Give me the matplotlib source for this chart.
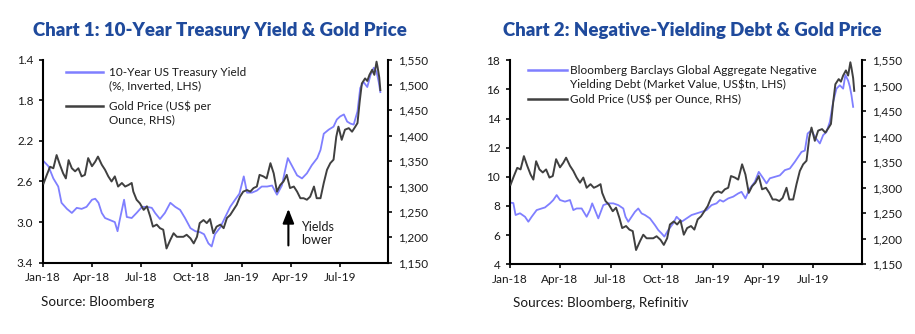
#!/usr/bin/env python3
"""
Two dual-axis charts: 10-year Treasury yield vs gold, negative-yielding debt vs gold.
"""

import pandas as pd
import matplotlib
matplotlib.use("Agg")
import matplotlib.pyplot as plt
from matplotlib.lines import Line2D
from matplotlib.ticker import FuncFormatter

plt.rcParams['font.family'] = ['Lato', 'DejaVu Sans']

START = pd.Timestamp('2018-01-01')

# 10-year US Treasury yield (%), days since 1 Jan 2018
yield_days = [1, 10, 19, 28, 34, 44, 53, 62, 71, 80, 90, 96, 102, 108, 114,
              123, 132, 137, 141, 149, 154, 163, 172, 182, 191, 200, 206,
              215, 224, 234, 243, 252, 261, 271, 280, 289, 296, 304, 310,
              316, 326, 335, 344, 353, 361, 369, 375, 384, 393, 402, 412,
              421, 430, 439, 445, 450, 458, 467, 476, 485, 494, 504, 510,
              516, 525, 534, 540, 546, 553, 559, 565, 571, 578, 583, 589,
              596, 602, 608, 613, 617, 620]
yield_vals = [2.40, 2.45, 2.57, 2.65, 2.81, 2.87, 2.91, 2.86, 2.87, 2.85,
              2.78, 2.77, 2.81, 2.91, 2.96, 2.98, 3.00, 3.09, 2.98, 2.78,
              2.95, 2.96, 2.91, 2.85, 2.85, 2.86, 2.91, 2.97, 2.91, 2.81,
              2.85, 2.88, 2.96, 3.06, 3.09, 3.10, 3.12, 3.21, 3.24, 3.12,
              3.05, 2.95, 2.85, 2.78, 2.72, 2.55, 2.71, 2.71, 2.69, 2.65,
              2.65, 2.64, 2.73, 2.64, 2.49, 2.37, 2.45, 2.54, 2.57, 2.52,
              2.44, 2.37, 2.29, 2.13, 2.09, 2.06, 1.99, 1.96, 1.94, 2.01,
              2.03, 2.04, 1.91, 1.68, 1.62, 1.67, 1.55, 1.48, 1.52, 1.62,
              1.72]

# Gold price (US$ per ounce), days since 1 Jan 2018
gold_days = [1, 7, 13, 19, 25, 31, 37, 42, 47, 53, 59, 65, 71, 77, 83, 90,
             96, 101, 108, 114, 120, 126, 132, 138, 145, 151, 157, 163, 166,
             172, 178, 185, 191, 197, 202, 209, 215, 221, 227, 234, 240, 246,
             252, 258, 264, 271, 277, 283, 288, 295, 301, 307, 313, 319, 326,
             332, 338, 344, 350, 356, 362, 368, 375, 381, 387, 393, 398, 405,
             411, 418, 424, 430, 436, 442, 448, 454, 461, 467, 473, 479, 485,
             491, 498, 503, 510, 516, 522, 528, 534, 539, 543, 549, 555, 562,
             568, 574, 578, 582, 586, 592, 596, 600, 605, 609, 613, 615, 618,
             620]
gold_vals = [1306, 1323, 1339, 1336, 1362, 1343, 1326, 1316, 1352, 1336,
             1330, 1336, 1320, 1323, 1356, 1340, 1349, 1359, 1343, 1333,
             1320, 1310, 1320, 1300, 1307, 1300, 1303, 1307, 1290, 1274,
             1267, 1254, 1261, 1241, 1221, 1225, 1218, 1215, 1178, 1195,
             1208, 1201, 1201, 1201, 1205, 1198, 1188, 1201, 1228, 1234,
             1228, 1236, 1208, 1221, 1225, 1218, 1238, 1244, 1254, 1264,
             1280, 1290, 1293, 1290, 1297, 1300, 1323, 1320, 1316, 1346,
             1326, 1290, 1303, 1310, 1323, 1297, 1300, 1290, 1277, 1277,
             1274, 1280, 1300, 1277, 1277, 1307, 1333, 1346, 1353, 1398,
             1418, 1392, 1412, 1415, 1408, 1418, 1425, 1467, 1503, 1513,
             1508, 1520, 1530, 1520, 1546, 1535, 1515, 1490]

# Negative-yielding debt (US$tn), days since 1 Jan 2018
debt_days = [2, 6, 10, 18, 27, 33, 39, 48, 57, 63, 72, 78, 84, 90, 99, 108,
             114, 120, 129, 138, 144, 148, 153, 159, 168, 177, 186, 195, 204,
             208, 213, 219, 225, 231, 237, 243, 252, 261, 267, 273, 278, 285,
             294, 300, 309, 318, 327, 336, 345, 354, 363, 372, 378, 384, 393,
             402, 411, 417, 424, 432, 441, 448, 456, 462, 468, 477, 486, 495,
             504, 513, 519, 525, 531, 536, 543, 549, 558, 564, 570, 576, 582,
             588, 594, 600, 604, 609, 612, 615, 618]
debt_vals = [8.22, 8.20, 7.38, 7.50, 7.26, 6.92, 7.26, 7.72, 7.83, 7.90,
             8.18, 8.41, 8.75, 8.41, 8.30, 8.41, 7.72, 7.83, 7.83, 7.26,
             7.72, 8.18, 7.72, 7.15, 8.06, 8.18, 8.18, 8.06, 7.83, 7.26,
             6.92, 7.26, 7.60, 7.83, 7.49, 7.38, 7.15, 6.69, 6.35, 6.12,
             5.90, 6.35, 6.81, 7.26, 6.92, 7.15, 7.38, 7.49, 7.60, 7.72,
             8.06, 8.18, 8.41, 8.30, 8.52, 8.64, 8.86, 8.97, 8.52, 9.20,
             9.66, 10.34, 9.90, 9.55, 9.90, 10.00, 10.10, 10.46, 10.57, 11.03,
             11.37, 11.71, 11.80, 12.97, 13.20, 12.74, 12.29, 12.86, 13.08,
             13.77, 15.14, 16.05, 16.28, 16.05, 16.99, 16.60, 16.20, 15.60,
             14.80]

tick_dates = pd.to_datetime(['2018-01-01', '2018-04-01', '2018-07-01',
                             '2018-10-01', '2019-01-01', '2019-04-01',
                             '2019-07-01'])
tick_labels = [d.strftime('%b-%y') for d in tick_dates]
yield_ticks = [1.4, 1.8, 2.2, 2.6, 3.0, 3.4]
debt_ticks = [4, 6, 8, 10, 12, 14, 16, 18]
gold_ticks = list(range(1150, 1551, 50))

BLUE = '#7f7fff'
GREY = '#404040'
TITLE = '#1f4a9c'
TEXT = '#1a1a1a'


def to_dates(days):
    return START + pd.to_timedelta(days, unit='D')


def style_pair(ax, axr):
    """Spines and ticks shared by both charts."""
    for a in (ax, axr):
        a.spines['top'].set_visible(False)
        for s in a.spines.values():
            s.set_linewidth(1.5)
        a.tick_params(direction='out', length=3, width=1.3,
                      labelsize=8.5, pad=4, colors=TEXT)
    ax.spines['right'].set_visible(False)
    axr.spines['left'].set_visible(False)
    axr.spines['bottom'].set_visible(False)
    ax.set_xlim(START, pd.Timestamp('2019-09-27'))
    ax.set_xticks(tick_dates)
    ax.set_xticklabels(tick_labels)
    axr.set_ylim(1150, 1550)
    axr.set_yticks(gold_ticks)
    axr.yaxis.set_major_formatter(FuncFormatter(lambda v, p: f'{v:,.0f}'))


def legend_line(ax, x0, x1, y, color):
    ax.add_line(Line2D([x0, x1], [y, y], transform=ax.transAxes,
                       color=color, lw=1.8))


fig = plt.figure(figsize=(9.15, 3.34), dpi=100)

# Chart 1
ax1 = fig.add_axes([0.047, 0.2135, 0.377, 0.608])
ax1r = ax1.twinx()
ax1.plot(to_dates(yield_days), yield_vals, color=BLUE, lw=1.3)
ax1r.plot(to_dates(gold_days), gold_vals, color=GREY, lw=1.4)
ax1.set_ylim(3.4, 1.4)
ax1.set_yticks(yield_ticks)
ax1.yaxis.set_major_formatter(FuncFormatter(lambda v, p: f'{v:.1f}'))
style_pair(ax1, ax1r)

legend_line(ax1r, 0.067, 0.174, 0.939, BLUE)
legend_line(ax1r, 0.067, 0.174, 0.772, GREY)
for y, s in [(0.939, '10-Year US Treasury Yield'),
             (0.870, '(%, Inverted, LHS)'),
             (0.772, 'Gold Price (US$ per'),
             (0.703, 'Ounce, RHS)')]:
    ax1r.text(0.191, y, s, transform=ax1r.transAxes, va='center',
              fontsize=8.5, color=TEXT)

# "Yields lower" arrow
ax1.annotate('', xy=(pd.Timestamp('2019-03-28'), 2.87),
             xytext=(pd.Timestamp('2019-03-28'), 3.23),
             arrowprops=dict(arrowstyle='-|>,head_length=0.43,head_width=0.17',
                             mutation_scale=20, lw=1.5, color='black',
                             shrinkA=0, shrinkB=0))
ax1.text(pd.Timestamp('2019-04-21'), 3.11, 'Yields\nlower', va='center',
         ha='left', fontsize=9, color=TEXT, linespacing=1.1)

fig.text(0.2404, 0.910, 'Chart 1: 10-Year Treasury Yield & Gold Price',
         ha='center', va='center', fontsize=13.4, fontweight='heavy',
         color=TITLE)
fig.text(0.0448, 0.0967, 'Source: Bloomberg', va='center', fontsize=9.7,
         color=TEXT)

# Chart 2
ax2 = fig.add_axes([0.5574, 0.2087, 0.3847, 0.611])
ax2r = ax2.twinx()
ax2.plot(to_dates(debt_days), debt_vals, color=BLUE, lw=1.3)
ax2r.plot(to_dates(gold_days), gold_vals, color=GREY, lw=1.4)
ax2.set_ylim(4, 18)
ax2.set_yticks(debt_ticks)
style_pair(ax2, ax2r)

legend_line(ax2r, 0.050, 0.161, 0.952, BLUE)
legend_line(ax2r, 0.050, 0.161, 0.810, GREY)
for y, s in [(0.952, 'Bloomberg Barclays Global Aggregate Negative'),
             (0.884, 'Yielding Debt (Market Value, US$tn, LHS)'),
             (0.810, 'Gold Price (US$ per Ounce, RHS)')]:
    ax2r.text(0.170, y, s, transform=ax2r.transAxes, va='center',
              fontsize=8.5, color=TEXT)

fig.text(0.757, 0.910, 'Chart 2: Negative-Yielding Debt & Gold Price',
         ha='center', va='center', fontsize=13.4, fontweight='heavy',
         color=TITLE)
fig.text(0.5607, 0.094, 'Sources: Bloomberg, Refinitiv', va='center',
         fontsize=9.7, color=TEXT)

fig.savefig('out.png', dpi=100)
